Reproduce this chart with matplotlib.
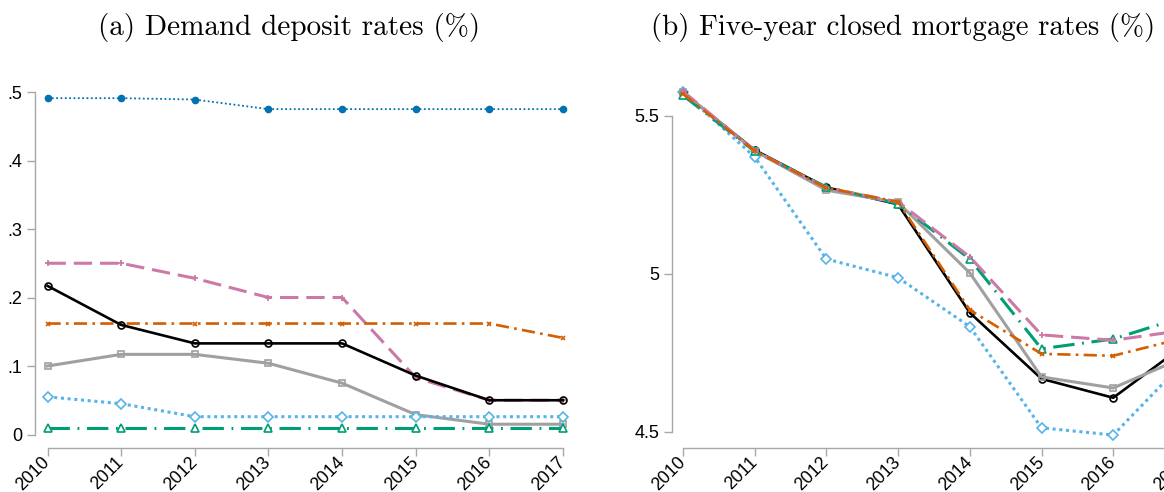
import matplotlib
matplotlib.use("Agg")
import matplotlib.pyplot as plt

years = [2010, 2011, 2012, 2013, 2014, 2015, 2016, 2017]

# (a) demand deposit rates
dep_darkblue = [0.491, 0.491, 0.489, 0.475, 0.475, 0.475, 0.475, 0.475]
dep_pink = [0.250, 0.250, 0.228, 0.200, 0.200, 0.083, 0.050, 0.050]
dep_black = [0.217, 0.160, 0.133, 0.133, 0.133, 0.086, 0.050, 0.050]
dep_orange = [0.162, 0.162, 0.162, 0.162, 0.162, 0.162, 0.162, 0.141]
dep_gray = [0.100, 0.117, 0.117, 0.104, 0.075, 0.029, 0.015, 0.015]
dep_lightblue = [0.055, 0.045, 0.026, 0.026, 0.026, 0.026, 0.026, 0.026]
dep_green = [0.010, 0.010, 0.010, 0.010, 0.010, 0.010, 0.010, 0.010]

# (b) five-year closed mortgage rates
mort_pink = [5.578, 5.390, 5.272, 5.228, 5.054, 4.807, 4.790, 4.822]
mort_green = [5.565, 5.388, 5.275, 5.222, 5.047, 4.763, 4.794, 4.865]
mort_orange = [5.570, 5.389, 5.272, 5.228, 4.886, 4.747, 4.741, 4.798]
mort_gray = [5.575, 5.389, 5.265, 5.226, 5.003, 4.674, 4.639, 4.737]
mort_black = [5.574, 5.392, 5.274, 5.220, 4.877, 4.668, 4.608, 4.776]
mort_lightblue = [5.576, 5.370, 5.047, 4.988, 4.833, 4.513, 4.490, 4.725]

W, H = 1164, 492
fig = plt.figure(figsize=(W / 100, H / 100), dpi=100)

spine_col = "#a8a8a8"
tick_font = "Liberation Sans"


def px_axes(x0, x1, y0, y1):
    # pixel box (left, right, top, bottom) -> figure axes
    return fig.add_axes([x0 / W, 1 - y1 / H, (x1 - x0) / W, (y1 - y0) / H])


def style(ax, yticks, ylabels):
    for s in ["top", "right"]:
        ax.spines[s].set_visible(False)
    for s in ["left", "bottom"]:
        ax.spines[s].set_color(spine_col)
        ax.spines[s].set_linewidth(1.0)
    ax.spines["left"].set_bounds(yticks[0], yticks[-1])
    ax.spines["bottom"].set_bounds(years[0], years[-1])
    ax.set_yticks(yticks)
    ax.set_yticklabels(ylabels, fontfamily=tick_font, fontsize=13)
    ax.set_xticks(years)
    ax.set_xticklabels([str(y) for y in years], fontfamily=tick_font, fontsize=12.8,
                       rotation=45, ha="right", va="center", rotation_mode="anchor")
    ax.tick_params(axis="both", color=spine_col, length=5.5, width=1.0, pad=3.5)
    ax.tick_params(axis="x", pad=3.0)
    ax.patch.set_alpha(0)


# left panel
ax1 = px_axes(35, 575.5, 78.3, 448)
ax1.set_xlim(2009.830, 2017.170)
ax1.set_ylim(-0.0197, 0.52)
ax1.plot(years, dep_darkblue, color="#0072B2", lw=1.3, ls=(0, (1, 1.4)),
         marker="o", ms=4.5, mfc="#0072B2", mec="#0072B2")
ax1.plot(years, dep_pink, color="#CC79A7", lw=2.2, ls=(0, (6, 2.6)),
         marker="+", ms=5, mew=1.3)
ax1.plot(years, dep_orange, color="#D55E00", lw=1.9, ls=(0, (5, 2, 1, 2)),
         marker="x", ms=3.5, mew=1.2)
ax1.plot(years, dep_black, color="black", lw=1.9,
         marker="o", ms=5, mfc="none", mew=1.2)
ax1.plot(years, dep_gray, color="#a0a0a0", lw=2.2,
         marker="s", ms=5, mfc="none", mew=1.2)
ax1.plot(years, dep_lightblue, color="#56B4E9", lw=2.2, ls=(0, (1, 1.2)),
         marker="D", ms=5, mfc="white", mew=1.2)
ax1.plot(years, dep_green, color="#009E73", lw=2.2, ls=(0, (7, 2.5, 0.6, 2.5)),
         marker="^", ms=5.5, mfc="white", mew=1.2)
style(ax1, [0, 0.1, 0.2, 0.3, 0.4, 0.5], ["0", ".1", ".2", ".3", ".4", ".5"])

# right panel (runs past the right edge)
ax2 = px_axes(672, 1195.9, 78, 448)
ax2.set_xlim(2009.847, 2017.153)
ax2.set_ylim(4.449, 5.62)
ax2.plot(years, mort_lightblue, color="#56B4E9", lw=2.2, ls=(0, (1, 1.2)),
         marker="D", ms=5, mfc="white", mew=1.2)
ax2.plot(years, mort_black, color="black", lw=1.9,
         marker="o", ms=5, mfc="none", mew=1.2)
ax2.plot(years, mort_gray, color="#a0a0a0", lw=2.2,
         marker="s", ms=5, mfc="none", mew=1.2)
ax2.plot(years, mort_green, color="#009E73", lw=2.2, ls=(0, (7, 2.5, 0.6, 2.5)),
         marker="^", ms=5.5, mfc="white", mew=1.2)
ax2.plot(years, mort_pink, color="#CC79A7", lw=2.2, ls=(0, (6, 2.6)),
         marker="+", ms=5, mew=1.3)
ax2.plot(years, mort_orange, color="#D55E00", lw=1.9, ls=(0, (5, 2, 1, 2)),
         marker="x", ms=3.5, mew=1.2)
style(ax2, [4.5, 5.0, 5.5], ["4.5", "5", "5.5"])

fig.text(289 / W, 1 - 28 / H, "(a) Demand deposit rates (%)", family="cmr10",
         fontsize=21, ha="center", va="center")
fig.text(903 / W, 1 - 28 / H, "(b) Five-year closed mortgage rates (%)", family="cmr10",
         fontsize=20.8, ha="center", va="center")

fig.savefig("out.png", dpi=100)
